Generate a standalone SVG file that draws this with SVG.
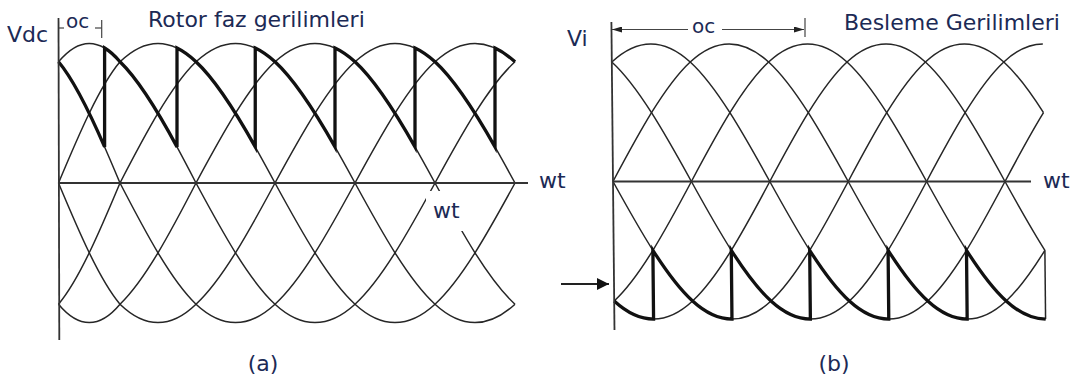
<svg xmlns="http://www.w3.org/2000/svg" width="1073" height="382" viewBox="0 0 1073 382">
<defs>
<style>
.thin{fill:none;stroke:#262626;stroke-width:1.5}
.thick{fill:none;stroke:#111;stroke-width:3.3;stroke-linejoin:miter}
.axis{fill:none;stroke:#333;stroke-width:1.8}
.dim{fill:none;stroke:#444;stroke-width:1.2}
.lbl{font-family:"DejaVu Sans",Verdana,sans-serif;font-size:22px;fill:#1c2a55}
.alpha{font-family:"DejaVu Sans",Verdana,sans-serif;font-size:20px;fill:#1c2a55}
</style>
<marker id="ah" viewBox="0 0 10 6" refX="10" refY="3" markerWidth="12" markerHeight="6" markerUnits="userSpaceOnUse" orient="auto"><path d="M0,0 L10,3 L0,6 z" fill="#222"/></marker>
<marker id="ahb" viewBox="0 0 10 10" refX="10" refY="5" markerWidth="13" markerHeight="12" markerUnits="userSpaceOnUse" orient="auto"><path d="M0,0 L10,5 L0,10 z" fill="#111"/></marker>
</defs>
<rect width="1073" height="382" fill="#fff"/>

<g id="panel-a">
<g id="a-curves" class="thin">
<path d="M58.5,183 C79,134.1 99.5,86.2 120,61.8 C145.33,37.3 170.67,37.3 196,61.8 C222.33,86.2 248.67,134.1 275,183 C301.67,231.9 328.33,279.8 355,304.2 C381.67,328.7 408.33,328.7 435,304.2 C461.67,279.8 488.33,231.9 515,183"/>
<path d="M58.5,304.2 C79,279.8 99.5,231.9 120,183 C145.33,134.1 170.67,86.2 196,61.8 C222.33,37.3 248.67,37.3 275,61.8 C301.67,86.2 328.33,134.1 355,183 C381.67,231.9 408.33,279.8 435,304.2 C461.67,328.7 488.33,328.7 515,304.2"/>
<path d="M58.5,304.2 C79,328.7 99.5,328.7 120,304.2 C145.33,279.8 170.67,231.9 196,183 C222.33,134.1 248.67,86.2 275,61.8 C301.67,37.3 328.33,37.3 355,61.8 C381.67,86.2 408.33,134.1 435,183 C461.67,231.9 488.33,279.8 515,304.2"/>
<path d="M58.5,183 C79,231.9 99.5,279.8 120,304.2 C145.33,328.7 170.67,328.7 196,304.2 C222.33,279.8 248.67,231.9 275,183 C301.67,134.1 328.33,86.2 355,61.8 C381.67,37.3 408.33,37.3 435,61.8 C461.67,86.2 488.33,134.1 515,183"/>
<path d="M58.5,61.8 C79,86.2 99.5,134.1 120,183 C145.33,231.9 170.67,279.8 196,304.2 C222.33,328.7 248.67,328.7 275,304.2 C301.67,279.8 328.33,231.9 355,183 C381.67,134.1 408.33,86.2 435,61.8 C461.67,37.3 488.33,37.3 515,61.8"/>
<path d="M58.5,61.8 C79,37.3 99.5,37.3 120,61.8 C145.33,86.2 170.67,134.1 196,183 C222.33,231.9 248.67,279.8 275,304.2 C301.67,328.7 328.33,328.7 355,304.2 C381.67,279.8 408.33,231.9 435,183 C461.67,134.1 488.33,86.2 515,61.8"/>
</g>
<path id="a-envelope" class="thick" d="M58.5,61.8 C73.9,80.1 89.25,111.6 104.6,146.9 L104.6,48 C109.75,51.1 114.9,55.7 120,61.8 C139,80.1 158,111.6 177,146.9 L177,48 C183.3,51.1 189.7,55.7 196,61.8 C215.75,80.1 235.5,111.6 255.25,146.9 L255.25,48 C261.8,51.1 268.4,55.7 275,61.8 C295,80.1 315,111.6 335,146.9 L335,48 C341.7,51.1 348.3,55.7 355,61.8 C375,80.1 395,111.6 415,146.9 L415,48 C421.7,51.1 428.3,55.7 435,61.8 C455,80.1 475,111.6 495,146.9 L495,48 C501.7,51.1 508.3,55.7 515,61.8"/>
<g id="a-axes" class="axis">
<line x1="58.5" y1="18" x2="59.3" y2="340"/>
<line x1="58.5" y1="183" x2="528" y2="183"/>
</g>
<g id="a-alpha" class="dim">
<line x1="59" y1="28" x2="64" y2="28"/>
<line x1="95" y1="28" x2="101.7" y2="28"/>
<line x1="101.7" y1="20" x2="101.7" y2="38"/>
</g>
<text class="alpha" x="66" y="28">oc</text>
<rect x="426" y="191" width="42" height="40" fill="#fff"/>
<text class="lbl" x="433" y="218">wt</text>
<text class="lbl" x="539" y="188">wt</text>
<text class="lbl" x="7" y="42">Vdc</text>
<text class="lbl" x="148" y="27">Rotor faz gerilimleri</text>
<text class="lbl" x="263" y="371" text-anchor="middle">(a)</text>
</g>

<g id="panel-b">
<g transform="matrix(1,0,0.01,1,-1.815,0)">
<g id="b-curves" class="thin">
<path d="M613,181.5 C639.13,133.33 665.27,86.08 691.4,61.99 C717.53,37.9 743.67,37.9 769.8,61.99 C795.93,86.08 822.07,133.33 848.2,181.5 C874.33,229.67 900.47,276.92 926.6,301.01 C952.73,325.1 978.87,325.1 1005,301.01 C1018.07,288.97 1031.13,271.13 1044.2,250.29"/>
<path d="M613,301.01 C639.13,276.92 665.27,229.67 691.4,181.5 C717.53,133.33 743.67,86.08 769.8,61.99 C795.93,37.9 822.07,37.9 848.2,61.99 C874.33,86.08 900.47,133.33 926.6,181.5 C952.73,229.67 978.87,276.92 1005,301.01 C1018.07,313.06 1031.13,319.08 1044.2,319.08"/>
<path d="M613,301.01 C639.13,325.1 665.27,325.1 691.4,301.01 C717.53,276.92 743.67,229.67 769.8,181.5 C795.93,133.33 822.07,86.08 848.2,61.99 C874.33,37.9 900.47,37.9 926.6,61.99 C952.73,86.08 978.87,133.33 1005,181.5 C1018.07,205.59 1031.13,229.44 1044.2,250.29"/>
<path d="M613,181.5 C639.13,229.67 665.27,276.92 691.4,301.01 C717.53,325.1 743.67,325.1 769.8,301.01 C795.93,276.92 822.07,229.67 848.2,181.5 C874.33,133.33 900.47,86.08 926.6,61.99 C952.73,37.9 978.87,37.9 1005,61.99 C1018.07,74.04 1031.13,91.87 1044.2,112.72"/>
<path d="M613,61.99 C639.13,86.08 665.27,133.33 691.4,181.5 C717.53,229.67 743.67,276.92 769.8,301.01 C795.93,325.1 822.07,325.1 848.2,301.01 C874.33,276.92 900.47,229.67 926.6,181.5 C952.73,133.33 978.87,86.08 1005,61.99 C1018.07,49.95 1031.13,43.92 1044.2,43.92"/>
<path d="M613,61.99 C639.13,37.9 665.27,37.9 691.4,61.99 C717.53,86.08 743.67,133.33 769.8,181.5 C795.93,229.67 822.07,276.92 848.2,301.01 C874.33,325.1 900.47,325.1 926.6,301.01 C952.73,276.92 978.87,229.67 1005,181.5 C1018.07,157.42 1031.13,133.56 1044.2,112.72"/>
<line x1="1044.2" y1="250.3" x2="1044.2" y2="319"/>
</g>
<path id="b-envelope" class="thick" d="M613,301 C626.07,313.06 639.13,319.08 652.2,319.08 L652.2,250.29 C665.27,271.13 678.33,288.97 691.4,301.01 C704.47,313.06 717.53,319.08 730.6,319.08 L730.6,250.29 C743.67,271.13 756.73,288.97 769.8,301.01 C782.87,313.06 795.93,319.08 809,319.08 L809,250.29 C822.07,271.13 835.13,288.97 848.2,301.01 C861.27,313.06 874.33,319.08 887.4,319.08 L887.4,250.29 C900.47,271.13 913.53,288.97 926.6,301.01 C939.67,313.06 952.73,319.08 965.8,319.08 L965.8,250.29 C978.87,271.13 991.93,288.97 1005,301.01 C1018.07,313.06 1031.13,319.08 1044.2,319.08"/>
<g id="b-axes" class="axis">
<line x1="613" y1="22" x2="613" y2="330"/>
<line x1="613" y1="181.5" x2="1031" y2="181.5"/>
</g>
</g>
<g id="b-alpha" class="dim">
<line x1="688" y1="29.5" x2="612" y2="29.5" marker-end="url(#ah)"/>
<line x1="722" y1="29.5" x2="804" y2="29.5" marker-end="url(#ah)"/>
<line x1="805" y1="18" x2="805" y2="37"/>
</g>
<text class="alpha" x="692" y="33">oc</text>
<line id="b-arrow" x1="561" y1="284" x2="609" y2="284" stroke="#222" stroke-width="2" marker-end="url(#ahb)"/>
<text class="lbl" x="567" y="46">Vi</text>
<text class="lbl" x="844" y="30">Besleme Gerilimleri</text>
<text class="lbl" x="1043" y="188">wt</text>
<text class="lbl" x="834" y="371" text-anchor="middle">(b)</text>
</g>
</svg>
